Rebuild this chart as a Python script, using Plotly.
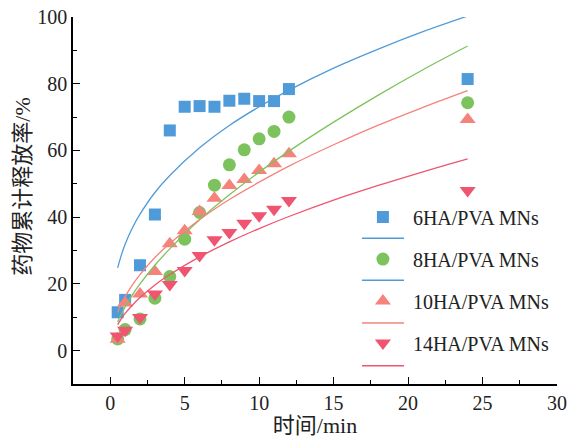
import plotly.graph_objects as go

# ---------------- data ----------------
t_obs = [0.5, 1, 2, 3, 4, 5, 6, 7, 8, 9, 10, 11, 12, 24]
ha6 = [11.5, 15.2, 25.6, 40.8, 66.0, 73.1, 73.3, 73.1, 74.9, 75.5, 74.8, 74.8, 78.4, 81.4]
ha8 = [3.5, 6.3, 9.5, 15.7, 22.2, 33.4, 41.4, 49.6, 55.7, 60.2, 63.5, 65.7, 70.0, 74.3]
ha10 = [3.4, 14.3, 17.0, 23.7, 32.0, 35.9, 41.7, 45.7, 49.5, 51.3, 54.0, 56.0, 59.0, 69.3]
ha14 = [4.4, 6.1, 9.9, 17.0, 19.8, 24.0, 28.5, 33.2, 35.4, 38.2, 40.4, 42.4, 45.0, 48.0]

t_fit = [0.5, 0.75, 1, 1.5, 2, 3, 4, 6, 8, 10, 12, 15, 18, 21, 24]
fit6 = [24.8, 28.7, 31.9, 36.9, 40.9, 47.4, 52.5, 60.8, 67.5, 73.1, 78.1, 84.7, 90.4, 95.6, 100.3]
fit8 = [8.6, 11.0, 13.1, 16.8, 20.0, 25.6, 30.5, 39.2, 46.7, 53.5, 59.8, 68.5, 76.6, 84.2, 91.3]
fit10 = [11.5, 14.1, 16.2, 19.8, 22.8, 27.9, 32.1, 39.3, 45.3, 50.5, 55.3, 61.7, 67.6, 72.9, 77.9]
fit14 = [7.8, 9.6, 11.15, 13.7, 15.9, 19.7, 22.8, 28.1, 32.6, 36.6, 40.2, 45.1, 49.5, 53.6, 57.5]

names = ["6HA/PVA MNs", "8HA/PVA MNs", "10HA/PVA MNs", "14HA/PVA MNs"]
x_ticks = [0, 5, 10, 15, 20, 25, 30]
y_ticks = [0, 20, 40, 60, 80, 100]

# ---------------- style ----------------
BLUE = "#4F9BD9"
GREEN = "#7CC35E"
SALMON = "#F5837B"
RED = "#EF5570"
SERIF = "Liberation Serif"
CJK = "Liberation Serif, Noto Sans CJK SC"
PAD = "\u00a0\u00a0"  # small visual gap between legend symbol and label

fig = go.Figure()

obs = [ha6, ha8, ha10, ha14]
fits = [fit6, fit8, fit10, fit14]
colors = [BLUE, GREEN, SALMON, RED]
symbols = ["square", "circle", "triangle-up", "triangle-down"]
sizes = [12, 13, 14, 14]
legend_line_colors = [BLUE, BLUE, SALMON, RED]

for i, (ys, c, s, sz, nm) in enumerate(zip(obs, colors, symbols, sizes, names)):
    fig.add_trace(go.Scatter(x=t_obs, y=ys, mode="markers", name=PAD + nm, legendgroup=f"g{i}",
                             marker=dict(symbol=s, size=sz, color=c, line=dict(width=0))))

for ys, c in zip(fits, colors):
    fig.add_trace(go.Scatter(x=t_fit, y=ys, mode="lines", showlegend=False,
                             line=dict(color=c, width=1.3, shape="spline", smoothing=1.0)))

# legend line samples beneath each legend marker
line_y = [0.397, 0.2826, 0.1662, 0.0499]
for ly, c in zip(line_y, legend_line_colors):
    fig.add_shape(type="line", xref="paper", yref="paper", x0=0.597, x1=0.684,
                  y0=ly, y1=ly, line=dict(color=c, width=1.5))

fig.add_annotation(text="药物累计释放率/%", xref="paper", yref="paper",
                   x=-0.105, y=0.538, xanchor="center", yanchor="middle",
                   textangle=-90, showarrow=False,
                   font=dict(family=CJK, size=22, color="#222"))

axis_common = dict(showline=True, linecolor="black", linewidth=1.6, ticks="inside",
                   ticklen=7, tickwidth=1.4, tickcolor="black", showgrid=False,
                   zeroline=False, mirror=False, automargin=False,
                   tickfont=dict(family=SERIF, size=20, color="#222"))

fig.update_xaxes(range=[-2.5, 30], tickvals=x_ticks,
                 minor=dict(ticks="inside", ticklen=4, tickwidth=1.2, tickcolor="black",
                            dtick=2.5, tick0=0, showgrid=False),
                 title=dict(text="时间/min", font=dict(family=CJK, size=22, color="#222"), standoff=6),
                 **axis_common)
fig.update_yaxes(range=[-10, 100], tickvals=y_ticks,
                 minor=dict(ticks="inside", ticklen=4, tickwidth=1.2, tickcolor="black",
                            dtick=10, tick0=0, showgrid=False),
                 **axis_common)

fig.update_layout(
    width=579, height=438,
    margin=dict(l=73, r=22, t=17, b=54, autoexpand=False),
    plot_bgcolor="white", paper_bgcolor="white",
    legend=dict(x=0.599, y=0.508, xanchor="left", yanchor="top",
                font=dict(family=SERIF, size=20, color="#222"),
                bgcolor="rgba(0,0,0,0)", tracegroupgap=13),
    showlegend=True,
)

fig.write_html("out.html")
